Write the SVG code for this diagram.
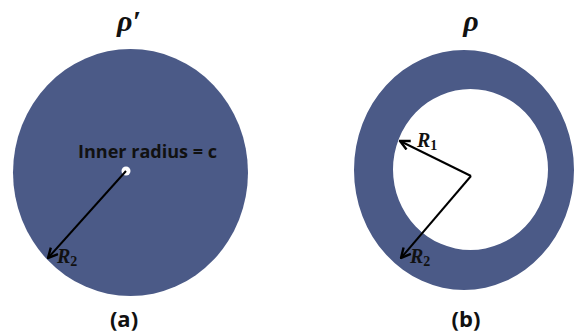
<svg xmlns="http://www.w3.org/2000/svg" width="575" height="334" viewBox="0 0 575 334">
<style>
.disk{fill:#4b5a87}
.lbl{font-family:"Open Sans","Liberation Sans",Arial,sans-serif;font-weight:bold;fill:#111}
.math{font-family:"Liberation Serif","DejaVu Serif",serif;font-style:italic;font-weight:bold;fill:#111}
.sub{font-style:normal}
.arr{stroke:#000;stroke-width:2;fill:none;marker-end:url(#ah)}
</style>
<defs>
<marker id="ah" viewBox="0 0 10 10" refX="9" refY="5" markerWidth="6" markerHeight="6" orient="auto" markerUnits="strokeWidth">
<path d="M1,1 L9,5 L1,9" fill="none" stroke="#000" stroke-width="2"/>
</marker>
</defs>
<rect width="575" height="334" fill="#fff"/>
<g id="diskA">
<ellipse class="disk" cx="130.5" cy="172.5" rx="117.5" ry="123.5"/>
<circle cx="126" cy="171" r="4.5" fill="#fff"/>
<text class="lbl" x="78" y="158" font-size="18" textLength="139" lengthAdjust="spacingAndGlyphs">Inner radius = c</text>
</g>
<g id="ringB">
<path class="disk" fill-rule="evenodd" d="M354,170 a110,120 0 1,0 220,0 a110,120 0 1,0 -220,0 Z M393,169.5 a77.5,80.5 0 1,0 155,0 a77.5,80.5 0 1,0 -155,0 Z"/>
</g>
<g id="titles">
<text class="math" x="129" y="31" font-size="30" text-anchor="middle">ρ′</text>
<text class="math" x="471" y="31" font-size="30" text-anchor="middle">ρ</text>
<text class="lbl" x="124" y="327" font-size="22" text-anchor="middle">(a)</text>
<text class="lbl" x="466" y="327" font-size="22" text-anchor="middle">(b)</text>
</g>
<g id="connectors">
<line class="arr" x1="126" y1="171" x2="48" y2="258"/>
<line class="arr" x1="471" y1="176" x2="400" y2="141"/>
<line class="arr" x1="471" y1="176" x2="401" y2="258"/>
</g>
<g id="labels">
<text class="math" x="57" y="263" font-size="20">R<tspan class="sub" font-size="14" dy="3">2</tspan></text>
<text class="math" x="417" y="147" font-size="20">R<tspan class="sub" font-size="14" dy="3">1</tspan></text>
<text class="math" x="410" y="263" font-size="20">R<tspan class="sub" font-size="14" dy="3">2</tspan></text>
</g>
</svg>
